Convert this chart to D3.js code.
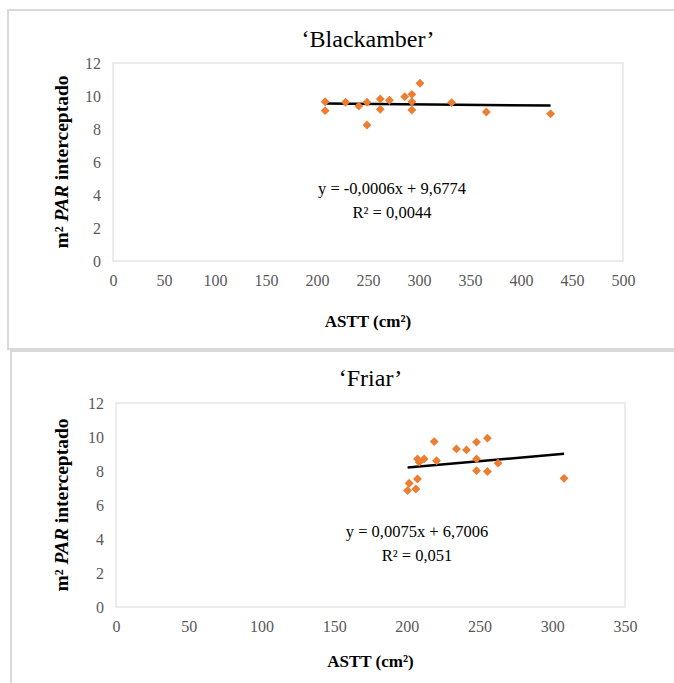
<!DOCTYPE html>
<html>
<head>
<meta charset="utf-8">
<script src="https://cdn.jsdelivr.net/npm/d3@7"></script>
<style>
  html, body { margin: 0; padding: 0; background: #fff; }
  svg { display: block; }
  text { font-family: "Liberation Serif"; }
</style>
</head>
<body>
<svg id="chart" width="674" height="683"></svg>
<script>
// Blackamber: trunk cross-sectional area (cm²) vs intercepted PAR (m²)
const blackamberX = [208, 208, 228, 241, 249, 249, 262, 262, 271, 286, 293, 293, 293, 301, 332, 366, 429];
const blackamberY = [9.65, 9.11, 9.62, 9.39, 9.62, 8.24, 9.82, 9.19, 9.74, 9.96, 10.1, 9.65, 9.15, 10.77, 9.6, 9.03, 8.92];
// Friar
const friarX = [200.5, 206.2, 201.6, 207.3, 207.3, 211.9, 208.5, 218.8, 220.4, 234.1, 241, 247.9, 247.9, 247.9, 255.4, 255.4, 262.7, 308.1];
const friarY = [6.85, 6.94, 7.28, 7.53, 8.71, 8.71, 8.52, 9.73, 8.60, 9.30, 9.24, 9.70, 8.71, 8.02, 9.93, 7.97, 8.46, 7.57];

// Linear fits (slope, intercept, R²)
const fitBlackamber = [-0.0006, 9.6774, 0.0044];
const fitFriar = [0.0075, 6.7006, 0.051];

const titles = ["\u2018Blackamber\u2019", "\u2018Friar\u2019"];
const equationLabels = [
  ["y = -0,0006x + 9,6774", "R\u00b2 = 0,0044"],
  ["y = 0,0075x + 6,7006", "R\u00b2 = 0,051"]
];
const xTicksBlackamber = [0, 50, 100, 150, 200, 250, 300, 350, 400, 450, 500];
const xTicksFriar = [0, 50, 100, 150, 200, 250, 300, 350];
const yTicks = [0, 2, 4, 6, 8, 10, 12];

const serif = "Liberation Serif";
const svg = d3.select("#chart");

// panel frames
const frameColor = "#d9d9d9";
svg.append("rect").attr("x", 8).attr("y", 10).attr("width", 680).attr("height", 339)
  .attr("fill", "none").attr("stroke", frameColor).attr("stroke-width", 2);
svg.append("rect").attr("x", 11).attr("y", 351).attr("width", 680).attr("height", 350)
  .attr("fill", "none").attr("stroke", frameColor).attr("stroke-width", 2);

const panels = [
  { xs: blackamberX, ys: blackamberY, fit: fitBlackamber, xMax: 500, xTicks: xTicksBlackamber,
    left: 113, right: 623, top: 63, bottom: 261, titleY: 47, title: titles[0], eq: equationLabels[0],
    eqX: 392, eqY: 194, axisTitleY: 327 },
  { xs: friarX, ys: friarY, fit: fitFriar, xMax: 350, xTicks: xTicksFriar,
    left: 116, right: 625, top: 403, bottom: 607, titleY: 386, title: titles[1], eq: equationLabels[1],
    eqX: 417, eqY: 537, axisTitleY: 667 }
];

panels.forEach(p => {
  const x = d3.scaleLinear().domain([0, p.xMax]).range([p.left, p.right]);
  const y = d3.scaleLinear().domain([0, 12]).range([p.bottom, p.top]);
  const g = svg.append("g").attr("font-family", serif);

  // plot area border
  g.append("rect")
    .attr("x", p.left).attr("y", p.top)
    .attr("width", p.right - p.left).attr("height", p.bottom - p.top)
    .attr("fill", "none").attr("stroke", "#d9d9d9").attr("stroke-width", 1);

  // axes (labels only, no domain lines or tick marks)
  const xAxis = g.append("g").attr("transform", `translate(0,${p.bottom})`)
    .call(d3.axisBottom(x).tickValues(p.xTicks).tickSize(0).tickPadding(14).tickFormat(d3.format("d")));
  const yAxis = g.append("g").attr("transform", `translate(${p.left},0)`)
    .call(d3.axisLeft(y).tickValues(yTicks).tickSize(0).tickPadding(12).tickFormat(d3.format("d")));
  [xAxis, yAxis].forEach(a => {
    a.attr("font-family", serif).attr("font-size", 15);
    a.select(".domain").remove();
    a.selectAll("text")
      .attr("fill", "#595959")
      .style("font-family", serif)
      .style("font-size", "16px");
  });

  // trend line over the observed range
  const [m, b] = p.fit;
  const xr = d3.extent(p.xs);
  g.append("line")
    .attr("x1", x(xr[0])).attr("y1", y(m * xr[0] + b))
    .attr("x2", x(xr[1])).attr("y2", y(m * xr[1] + b))
    .attr("stroke", "#000").attr("stroke-width", 2.5);

  // diamond markers
  const diamond = d3.symbol().type(d3.symbolDiamond2).size(50);
  g.selectAll("path.pt")
    .data(p.xs.map((v, i) => [v, p.ys[i]]))
    .join("path")
    .attr("class", "pt")
    .attr("d", diamond)
    .attr("transform", d => `translate(${x(d[0])},${y(d[1])})`)
    .attr("fill", "#ED7D31");

  // title
  g.append("text")
    .attr("x", (p.left + p.right) / 2).attr("y", p.titleY)
    .attr("text-anchor", "middle")
    .style("font-size", "24px").attr("fill", "#000")
    .text(p.title);

  // equation and R²
  g.append("text")
    .attr("x", p.eqX).attr("y", p.eqY)
    .attr("text-anchor", "middle")
    .style("font-size", "16.5px").attr("fill", "#000")
    .text(p.eq[0]);
  g.append("text")
    .attr("x", p.eqX).attr("y", p.eqY + 24)
    .attr("text-anchor", "middle")
    .style("font-size", "16.5px").attr("fill", "#000")
    .text(p.eq[1]);

  // x axis title
  g.append("text")
    .attr("x", (p.left + p.right) / 2).attr("y", p.axisTitleY)
    .attr("text-anchor", "middle")
    .style("font-size", "17px").style("font-weight", "bold").attr("fill", "#000")
    .text("ASTT (cm\u00b2)");

  // y axis title
  const yt = g.append("text")
    .attr("transform", `translate(68,${(p.top + p.bottom) / 2}) rotate(-90)`)
    .attr("text-anchor", "middle")
    .style("font-size", "19.5px").style("font-weight", "bold").attr("fill", "#000");
  yt.append("tspan").text("m\u00b2 ");
  yt.append("tspan").style("font-style", "italic").text("PAR");
  yt.append("tspan").text(" interceptado");
});
</script>
</body>
</html>
